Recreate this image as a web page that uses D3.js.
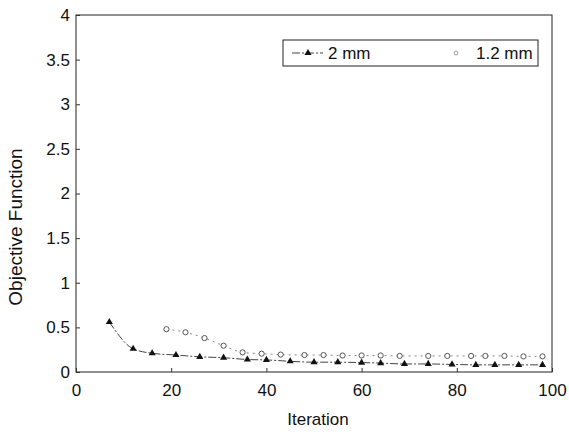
<!DOCTYPE html>
<html>
<head>
<meta charset="utf-8">
<script src="https://cdn.jsdelivr.net/npm/d3@7"></script>
<style>
  body { margin: 0; background: #fff; }
  svg { display: block; }
  text { font-family: "Liberation Sans", Arial, Helvetica, sans-serif; fill: #111; }
</style>
</head>
<body>
<svg id="chart" width="569" height="434"></svg>
<script>
// data
const iter2mm = [7, 12, 16, 21, 26, 31, 36, 40, 45, 50, 55, 60, 64, 69, 74, 79, 84, 88, 93, 98];
const obj2mm = [0.56, 0.26, 0.21, 0.19, 0.17, 0.16, 0.14, 0.135, 0.12, 0.11, 0.11, 0.105, 0.1, 0.09, 0.09, 0.085, 0.08, 0.08, 0.08, 0.08];
const iter12mm = [19, 23, 27, 31, 35, 39, 43, 48, 52, 56, 60, 64, 68, 74, 78, 83, 86, 90, 94, 98];
const obj12mm = [0.48, 0.445, 0.38, 0.295, 0.22, 0.205, 0.195, 0.19, 0.19, 0.185, 0.185, 0.185, 0.18, 0.18, 0.18, 0.18, 0.18, 0.18, 0.175, 0.175];
const xTicks = [0, 20, 40, 60, 80, 100];
const yTicks = [0, 0.5, 1, 1.5, 2, 2.5, 3, 3.5, 4];
const seriesNames = ["2 mm", "1.2 mm"];

const svg = d3.select("#chart");
const plot = { left: 76, right: 552, top: 15, bottom: 372 };

const x = d3.scaleLinear().domain([0, 100]).range([plot.left, plot.right]);
const y = d3.scaleLinear().domain([0, 4]).range([plot.bottom, plot.top]);

// frame
svg.append("rect")
    .attr("x", plot.left).attr("y", plot.top)
    .attr("width", plot.right - plot.left).attr("height", plot.bottom - plot.top)
    .attr("fill", "none").attr("stroke", "#222").attr("stroke-width", 1);

// axes (ticks inward)
const xAxis = svg.append("g")
    .attr("transform", `translate(0,${plot.bottom})`)
    .call(d3.axisBottom(x).tickValues(xTicks).tickSize(-4).tickPadding(12).tickFormat(d3.format("d")));
const yAxis = svg.append("g")
    .attr("transform", `translate(${plot.left},0)`)
    .call(d3.axisLeft(y).tickValues(yTicks).tickSize(-4).tickPadding(6).tickFormat(d => d));

[xAxis, yAxis].forEach(g => {
    g.select(".domain").remove();
    g.selectAll(".tick line").attr("stroke", "#333");
    g.selectAll("text").style("font-size", "17px").attr("fill", "#111");
});

// axis titles
svg.append("text")
    .attr("x", 318).attr("y", 425)
    .attr("text-anchor", "middle")
    .style("font-size", "17px")
    .text("Iteration");

svg.append("text")
    .attr("transform", "translate(22,227) rotate(-90)")
    .attr("text-anchor", "middle")
    .style("font-size", "19px")
    .text("Objective Function");

// series
const d2 = iter2mm.map((v, i) => ({ it: v, val: obj2mm[i] }));
const d12 = iter12mm.map((v, i) => ({ it: v, val: obj12mm[i] }));

const line = d3.line().x(d => x(d.it)).y(d => y(d.val)).curve(d3.curveMonotoneX);

svg.append("path")
    .datum(d2)
    .attr("d", line)
    .attr("fill", "none")
    .attr("stroke", "#444")
    .attr("stroke-width", 1)
    .attr("stroke-dasharray", "8,2,2,2");

svg.append("path")
    .datum(d12)
    .attr("d", line)
    .attr("fill", "none")
    .attr("stroke", "#888")
    .attr("stroke-width", 1)
    .attr("stroke-dasharray", "2,4");

const tri = d3.symbol().type(d3.symbolTriangle).size(22);

svg.append("g")
    .selectAll("path")
    .data(d2)
    .join("path")
    .attr("transform", d => `translate(${x(d.it)},${y(d.val)})`)
    .attr("d", tri)
    .attr("fill", "#111");

svg.append("g")
    .selectAll("circle")
    .data(d12)
    .join("circle")
    .attr("cx", d => x(d.it))
    .attr("cy", d => y(d.val))
    .attr("r", 2.6)
    .attr("fill", "#fff")
    .attr("stroke", "#555")
    .attr("stroke-width", 1);

// legend
const legend = svg.append("g");
legend.append("rect")
    .attr("x", 283).attr("y", 40)
    .attr("width", 255).attr("height", 26)
    .attr("fill", "#fff").attr("stroke", "#222").attr("stroke-width", 1);

legend.append("line")
    .attr("x1", 292).attr("x2", 323).attr("y1", 53).attr("y2", 53)
    .attr("stroke", "#444").attr("stroke-dasharray", "8,2,2,2");
legend.append("path")
    .attr("transform", "translate(308,53)")
    .attr("d", tri)
    .attr("fill", "#111");
legend.append("text")
    .attr("x", 328).attr("y", 59)
    .style("font-size", "17px")
    .text(seriesNames[0]);

legend.append("circle")
    .attr("cx", 456).attr("cy", 53).attr("r", 2)
    .attr("fill", "#fff").attr("stroke", "#999");
legend.append("text")
    .attr("x", 476).attr("y", 59)
    .style("font-size", "17px")
    .text(seriesNames[1]);
</script>
</body>
</html>
